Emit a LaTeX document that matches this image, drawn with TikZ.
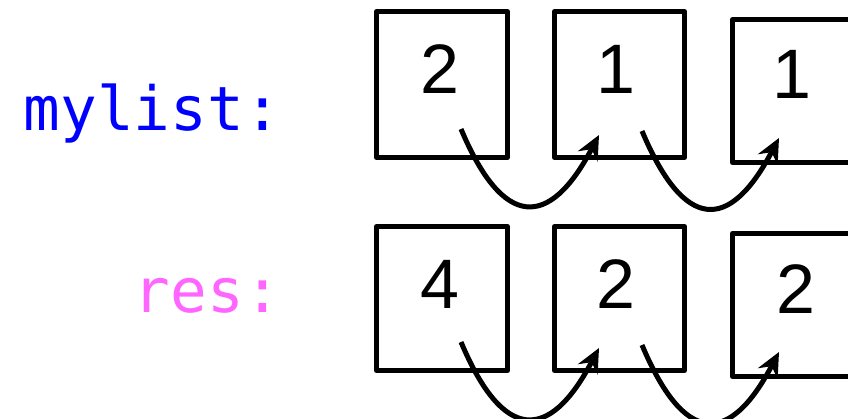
\documentclass[tikz,border=0pt]{standalone}
\usepackage{fontspec}
\setmainfont{Liberation Sans}
\newfontfamily\monofont{DejaVu Sans Mono}
\usetikzlibrary{arrows.meta,calc}
\definecolor{labelblue}{RGB}{0,0,255}
\definecolor{labelpink}{RGB}{255,102,255}
\tikzset{
  cell/.style={draw=black, line width=5pt, line join=round, inner sep=0pt, anchor=north west},
  num/.style={font=\fontsize{70}{70}\selectfont, inner sep=0pt, anchor=base},
  lab/.style={font=\monofont\fontsize{61}{61}\selectfont, inner sep=0pt, anchor=base east},
  link/.style={line width=5pt, -{Stealth[length=24pt,width=22pt,inset=8pt]}}
}
\begin{document}
\begin{tikzpicture}[x=1pt,y=-1pt]
\useasboundingbox (0,0) rectangle (848,418);
\clip (0,0) rectangle (848,418);
% labels
\node[lab, text=labelblue] (lmy) at (281,130) {mylist:};
\node[lab, text=labelpink] (lres) at (281,312) {res:};
% row 1 boxes
\node[cell, minimum width=131pt, minimum height=146pt] (a1) at (374,9) {};
\node[cell, minimum width=130pt, minimum height=146pt] (a2) at (552,9) {};
\node[cell, minimum width=160pt, minimum height=143pt] (a3) at (730,17) {};
\node[num] (na1) at (439.5,93) {2};
\node[num] (na2) at (616,93) {1};
\node[num] (na3) at (792,98) {1};
% row 2 boxes
\node[cell, minimum width=131pt, minimum height=144pt] (b1) at (374,224) {};
\node[cell, minimum width=130pt, minimum height=144pt] (b2) at (552,224) {};
\node[cell, minimum width=160pt, minimum height=143pt] (b3) at (730,231) {};
\node[num] (nb1) at (439.5,308) {4};
\node[num] (nb2) at (616,308) {2};
\node[num] (nb3) at (796,313) {2};
% link coordinates
\coordinate (sa1) at (461,129);
\coordinate (ea2) at (599,135);
\coordinate (sa2) at (642,131);
\coordinate (ea3) at (779,138);
\coordinate (sb1) at (461,342);
\coordinate (eb2) at (599,348);
\coordinate (sb2) at (642,345);
\coordinate (eb3) at (779,352);
% links
\draw[link] (sa1) .. controls ($(sa1)+(42,100)$) and ($(ea2)+(-50,95)$) .. (ea2);
\draw[link] (sa2) .. controls ($(sa2)+(42,100)$) and ($(ea3)+(-50,95)$) .. (ea3);
\draw[link] (sb1) .. controls ($(sb1)+(42,100)$) and ($(eb2)+(-50,95)$) .. (eb2);
\draw[link] (sb2) .. controls ($(sb2)+(42,100)$) and ($(eb3)+(-50,95)$) .. (eb3);
\end{tikzpicture}
\end{document}
